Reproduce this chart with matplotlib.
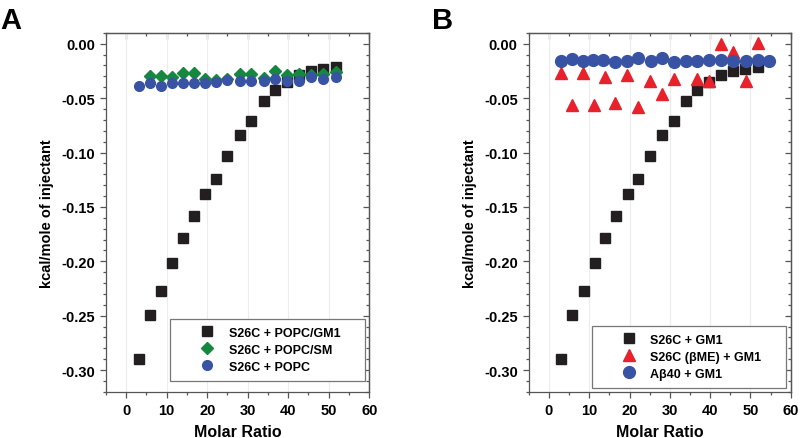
import numpy as np
import matplotlib
matplotlib.use('Agg')
import matplotlib.pyplot as plt
from matplotlib.ticker import MultipleLocator, FormatStrFormatter

plt.rcParams['font.family'] = ['Liberation Sans', 'DejaVu Sans']
plt.rcParams['font.weight'] = 'bold'
plt.rcParams['axes.labelweight'] = 'bold'
plt.rcParams['axes.unicode_minus'] = False

# S26C + GM1 (same titration in both panels)
x_gm1 = [3.1, 5.8, 8.6, 11.3, 14.0, 16.7, 19.5, 22.2, 25.0, 28.0, 30.9, 33.9,
         36.7, 39.7, 42.6, 45.7, 48.7, 51.9]
y_gm1 = [-0.290, -0.249, -0.227, -0.202, -0.179, -0.158, -0.138, -0.124, -0.103,
         -0.084, -0.071, -0.053, -0.043, -0.035, -0.029, -0.025, -0.0236, -0.021]

# panel A
x_sm = x_gm1[1:]
y_sm = [-0.0297, -0.030, -0.0306, -0.027, -0.027, -0.0325, -0.0337, -0.0328,
        -0.0276, -0.0276, -0.0316, -0.0251, -0.029, -0.0276, -0.0285, -0.028, -0.026]
x_popc = x_gm1
y_popc = [-0.039, -0.036, -0.039, -0.036, -0.036, -0.036, -0.036, -0.035, -0.0337,
          -0.0346, -0.0346, -0.034, -0.032, -0.034, -0.0346, -0.031, -0.032, -0.031]

# panel B
x_bme = [2.9, 5.6, 8.4, 11.1, 13.9, 16.5, 19.3, 22.2, 25.0, 28.0, 30.9, 36.8,
         39.7, 42.6, 45.6, 49.0, 51.8]
y_bme = [-0.0273, -0.056, -0.027, -0.056, -0.031, -0.0549, -0.029, -0.058, -0.0346,
         -0.046, -0.032, -0.032, -0.0346, 0.000, -0.0077, -0.0346, 0.0003]
x_ab40 = [2.9, 5.6, 8.4, 11.0, 13.5, 16.4, 19.3, 22.2, 25.2, 28.0, 30.9, 33.9,
          36.8, 39.7, 42.6, 45.6, 49.0, 51.8, 54.6]
y_ab40 = [-0.0159, -0.0138, -0.0159, -0.0153, -0.015, -0.0168, -0.0159, -0.0135,
          -0.0156, -0.0132, -0.0168, -0.016, -0.0156, -0.015, -0.015, -0.016,
          -0.0159, -0.0148, -0.0156]

black = '#231f20'
green = '#16873f'
blue = '#3953a4'
red = '#e8212b'
spine = '#555555'


def style(ax):
    ax.set_xlim(-5, 60)
    ax.set_ylim(-0.32, 0.01)
    ax.xaxis.set_major_locator(MultipleLocator(10))
    ax.xaxis.set_minor_locator(MultipleLocator(5))
    ax.yaxis.set_major_locator(MultipleLocator(0.05))
    ax.yaxis.set_minor_locator(MultipleLocator(0.01))
    ax.yaxis.set_major_formatter(FormatStrFormatter('%.2f'))
    ax.grid(axis='x', which='major', color='#ececec', lw=0.8)
    ax.set_axisbelow(True)
    for s in ax.spines.values():
        s.set_color(spine)
        s.set_linewidth(0.9)
    ax.tick_params(which='both', direction='out', color=spine, width=0.9,
                   labelsize=10.5)
    ax.tick_params(which='major', length=4.5)
    ax.tick_params(which='minor', length=2.5)
    top = ax.secondary_xaxis('top')
    top.xaxis.set_major_locator(MultipleLocator(10))
    top.xaxis.set_minor_locator(MultipleLocator(5))
    right = ax.secondary_yaxis('right')
    right.yaxis.set_major_locator(MultipleLocator(0.05))
    right.yaxis.set_minor_locator(MultipleLocator(0.01))
    for sec in (top, right):
        sec.tick_params(which='both', direction='in', color=spine, width=0.9,
                        labeltop=False, labelright=False)
        sec.tick_params(which='major', length=4)
        sec.tick_params(which='minor', length=2.5)
        for s in sec.spines.values():
            s.set_color(spine)
            s.set_linewidth(0.9)
    ax.set_xlabel('Molar Ratio', fontsize=11.5, labelpad=5)
    ax.set_ylabel('kcal/mole of injectant', fontsize=10.5, labelpad=5)


fig = plt.figure(figsize=(8, 4.39), dpi=100)

ax1 = fig.add_axes([0.1325, 0.105, 0.329, 0.818])
style(ax1)
ax1.plot(x_gm1, y_gm1, 's', color=black, ms=7, label='S26C + POPC/GM1')
ax1.plot(x_sm, y_sm, 'D', color=green, ms=6, label='S26C + POPC/SM')
ax1.plot(x_popc, y_popc, 'o', color=blue, ms=7, label='S26C + POPC')
leg = ax1.legend(loc='lower left', bbox_to_anchor=(0.243, 0.031, 0.742, 0.186),
                 mode='expand', fancybox=False, edgecolor='#777777', framealpha=1,
                 fontsize=9, handlelength=4.7, handletextpad=-0.65,
                 borderpad=0.65, labelspacing=0.4, borderaxespad=0)
leg.get_frame().set_linewidth(0.9)

ax2 = fig.add_axes([0.661, 0.105, 0.3275, 0.818])
style(ax2)
ax2.plot(x_gm1, y_gm1, 's', color=black, ms=7, label='S26C + GM1')
ax2.plot(x_bme, y_bme, '^', color=red, ms=8, label='S26C (βME) + GM1')
ax2.plot(x_ab40, y_ab40, 'o', color=blue, ms=8.5, label='Aβ40 + GM1')
leg = ax2.legend(loc='lower left', bbox_to_anchor=(0.24, 0.011, 0.741, 0.187),
                 mode='expand', fancybox=False, edgecolor='#777777', framealpha=1,
                 fontsize=9, handlelength=4.7, handletextpad=-0.65,
                 borderpad=0.65, labelspacing=0.4, borderaxespad=0)
leg.get_frame().set_linewidth(0.9)

fig.text(0.0, 0.985, 'A', fontsize=21, fontweight='bold', va='top', ha='left')
fig.text(0.54, 0.985, 'B', fontsize=21, fontweight='bold', va='top', ha='left')

fig.savefig('out.png', dpi=100)
